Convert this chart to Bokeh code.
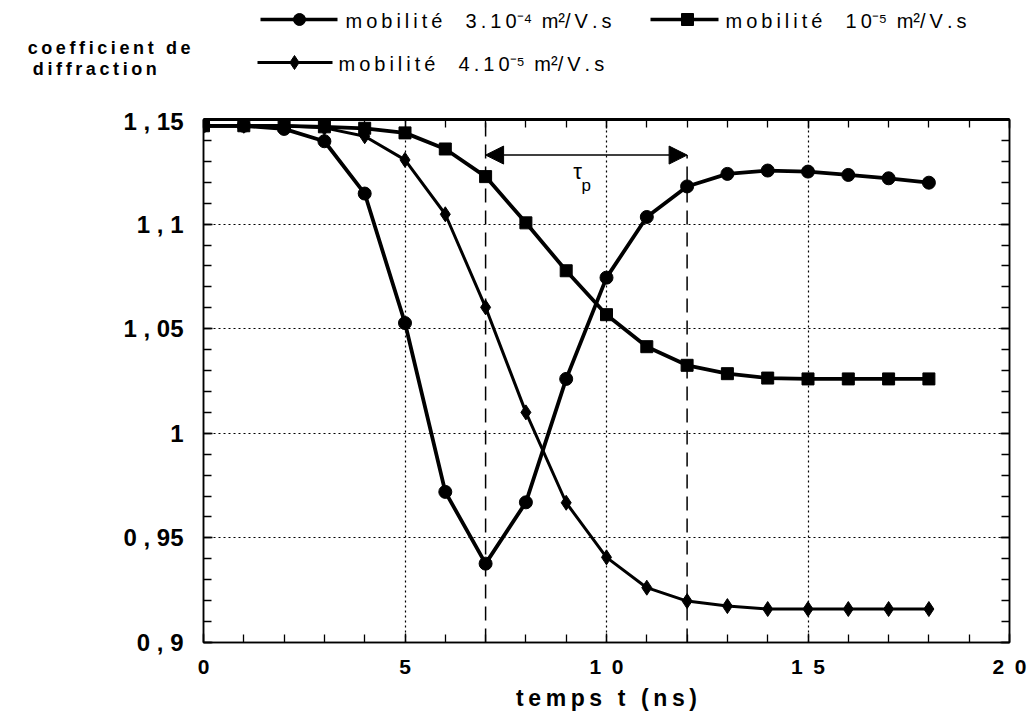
from bokeh.plotting import figure
from bokeh.layouts import column
from bokeh.models import (FixedTicker, LinearAxis, Range1d, Label, Arrow, NormalHead)
from bokeh.core.properties import value
from bokeh.embed import file_html
from bokeh.resources import INLINE

# ---- data ----
t_ns = list(range(0, 19))
mob_3e4 = [1.147, 1.147, 1.1455, 1.1396, 1.1146, 1.0527, 0.972, 0.9377, 0.967,
           1.026, 1.0744, 1.1034, 1.118, 1.124, 1.1256, 1.1251, 1.1235, 1.1219, 1.1198]
mob_1e5 = [1.147, 1.147, 1.147, 1.1465, 1.1458, 1.1436, 1.1359, 1.1227, 1.1006,
           1.0777, 1.0567, 1.0414, 1.0325, 1.0285, 1.0264, 1.026, 1.026, 1.026, 1.026]
mob_4e5 = [1.147, 1.147, 1.147, 1.146, 1.142, 1.1307, 1.1047, 1.0602, 1.0100,
           0.9668, 0.9407, 0.9262, 0.9198, 0.9174, 0.916, 0.916, 0.916, 0.916, 0.916]
series_labels = ["mobilité  3.10\u207b\u2074 m\u00b2/V.s",
                 "mobilité  10\u207b\u2075 m\u00b2/V.s",
                 "mobilité  4.10\u207b\u2075 m\u00b2/V.s"]
series_markers = ["circle", "square", "diamond"]
x_ticks = [0, 5, 10, 15, 20]
x_tick_labels = ["0", "5", "1\u20020", "1\u20025", "2\u20020"]
y_ticks = [0.9, 0.95, 1.0, 1.05, 1.1, 1.15]
y_tick_labels = ["0 , 9", "0 , 95", "1", "1 , 05", "1 , 1", "1 , 15"]
y_title = ["coefficient de", "diffraction"]
x_title = "temps t (ns)"
tau_bounds = [7, 12]
tau_level = 1.133

FONT = "Liberation Sans"
W = 1028
HEAD_H = 107
FRAME_L, FRAME_R = 203, 1009
SUPS = set("\u207b\u2070\u00b9\u00b2\u00b3\u2074\u2075\u2076\u2077\u2078\u2079")


def spaced(s):
    """Mimic the wide letter spacing of the original typesetting."""
    out = ""
    for i, ch in enumerate(s):
        if i > 0 and ch not in SUPS and s[i - 1] not in SUPS:
            out += "\u2009"
        out += ch
    return out


# ---------------- header (legend + y title) ----------------
h = figure(width=W, height=HEAD_H, output_backend="svg", toolbar_location=None,
           x_range=Range1d(FRAME_L, FRAME_R), y_range=Range1d(HEAD_H, 0),
           min_border_left=FRAME_L, min_border_right=W - FRAME_R,
           min_border_top=0, min_border_bottom=0)
h.xaxis.visible = False
h.grid.visible = False
h.outline_line_color = None
h.background_fill_color = "white"
h.border_fill_color = "white"

# y title drawn as the header's left-axis labels (two lines)
title_rows = [47, 68]
hy = h.yaxis[0]
hy.ticker = FixedTicker(ticks=title_rows, minor_ticks=[])
# trailing figure spaces keep the shorter line centred under the longer one
hy.major_label_overrides = {title_rows[0]: spaced(y_title[0]),
                            title_rows[1]: spaced(y_title[1]) + "\u2007\u2007\u2007\u2009"}
hy.major_label_text_font = FONT
hy.major_label_text_font_style = "bold"
hy.major_label_text_font_size = "18px"
hy.major_label_text_color = "black"
hy.major_label_standoff = 13
hy.axis_line_color = None
hy.major_tick_line_color = None
hy.minor_tick_line_color = None
hy.major_tick_in = 0
hy.major_tick_out = 0

# legend layout (pixel positions in header)
leg_x0 = [260, 650, 257]
leg_x1 = [337, 718, 332]
leg_y = [19, 19, 62]
leg_mx = [299, 687, 294]
leg_tx = [345, 725, 338]
leg_sizes = [12, 12, 14]
leg_widths = [3.5, 3.5, 3.0]
for i in range(3):
    h.line([leg_x0[i], leg_x1[i]], [leg_y[i], leg_y[i]], line_color="black",
           line_width=leg_widths[i])
    h.scatter([leg_mx[i]], [leg_y[i]], marker=series_markers[i], size=leg_sizes[i],
              fill_color="black", line_color="black")
h.text(x=leg_tx, y=[y + 1 for y in leg_y], text=[spaced(s) for s in series_labels],
       text_font=value(FONT), text_font_size="20px", text_color="black",
       text_baseline="middle", text_align="left")

# ---------------- main plot ----------------
p = figure(width=W, height=610, output_backend="svg", toolbar_location=None,
           x_range=Range1d(0, 20), y_range=Range1d(0.9, 1.15),
           min_border_left=FRAME_L, min_border_right=W - FRAME_R, min_border_top=12,
           min_border_bottom=75)
p.background_fill_color = "white"
p.border_fill_color = "white"
p.outline_line_color = "black"
p.outline_line_width = 1.5

x_minor = list(range(0, 21))
y_minor = [round(0.9 + 0.01 * i, 2) for i in range(26)]
xt = FixedTicker(ticks=x_ticks, minor_ticks=x_minor)
yt = FixedTicker(ticks=y_ticks, minor_ticks=y_minor)


def style_axis(ax):
    ax.axis_line_color = "black"
    ax.axis_line_width = 1.5
    ax.major_tick_in = 9
    ax.major_tick_out = 0
    ax.minor_tick_in = 8
    ax.minor_tick_out = 0
    ax.major_tick_line_color = "black"
    ax.minor_tick_line_color = "black"
    ax.major_tick_line_width = 1.3
    ax.minor_tick_line_width = 1.3
    ax.major_label_text_color = "black"
    ax.axis_label_text_color = "black"


xa = p.xaxis[0]
xa.ticker = xt
xa.major_label_overrides = {v: s for v, s in zip(x_ticks, x_tick_labels)}
style_axis(xa)
xa.major_label_text_font = FONT
xa.major_label_text_font_style = "bold"
xa.major_label_text_font_size = "21px"
xa.major_label_standoff = 12
xa.axis_label = spaced(x_title)
xa.axis_label_text_font = FONT
xa.axis_label_text_font_style = "bold"
xa.axis_label_text_font_size = "23px"
xa.axis_label_standoff = 4

ya = p.yaxis[0]
ya.ticker = yt
ya.major_label_overrides = {v: s for v, s in zip(y_ticks, y_tick_labels)}
style_axis(ya)
ya.major_label_text_font = FONT
ya.major_label_text_font_style = "bold"
ya.major_label_text_font_size = "24px"
ya.major_label_standoff = 20

top_ax = LinearAxis(ticker=FixedTicker(ticks=x_ticks, minor_ticks=x_minor),
                    major_label_overrides={v: "" for v in x_ticks}, major_label_standoff=0)
style_axis(top_ax)
top_ax.axis_line_width = 3
p.add_layout(top_ax, "above")
right_ax = LinearAxis(ticker=FixedTicker(ticks=y_ticks, minor_ticks=y_minor),
                      major_label_overrides={v: "" for v in y_ticks}, major_label_standoff=0)
style_axis(right_ax)
p.add_layout(right_ax, "right")

p.xgrid.ticker = xt
p.ygrid.ticker = yt
for g in (p.xgrid[0], p.ygrid[0]):
    g.grid_line_color = "black"
    g.grid_line_dash = "2 3"
    g.grid_line_width = 1.2
    g.minor_grid_line_color = None

# dashed tau markers and arrow
p.segment(x0=tau_bounds, y0=[0.9, 0.9], x1=tau_bounds, y1=[1.15, tau_level],
          line_color="black", line_width=1.5, line_dash="14 8")
p.add_layout(Arrow(x_start=tau_bounds[1], x_end=tau_bounds[0], y_start=tau_level,
                   y_end=tau_level, line_color="black", line_width=1.5,
                   start=NormalHead(size=18, fill_color="black", line_color="black"),
                   end=NormalHead(size=18, fill_color="black", line_color="black")))
p.add_layout(Label(x=9.28, y=1.125, text="\u03c4", text_font=FONT, text_font_size="22px",
                   text_align="center", text_baseline="middle", text_color="black"))
p.add_layout(Label(x=9.5, y=1.1185, text="p", text_font=FONT, text_font_size="17px",
                   text_align="center", text_baseline="middle", text_color="black"))

for ys, mk, sz, lw in ((mob_3e4, "circle", 13, 3.8), (mob_1e5, "square", 12, 3.8),
                       (mob_4e5, "diamond", 15, 3.0)):
    p.line(t_ns, ys, line_color="black", line_width=lw)
    p.scatter(t_ns, ys, marker=mk, size=sz, fill_color="black", line_color="black")

layout = column(h, p, spacing=0)
open("out.html", "w").write(file_html(layout, INLINE))
